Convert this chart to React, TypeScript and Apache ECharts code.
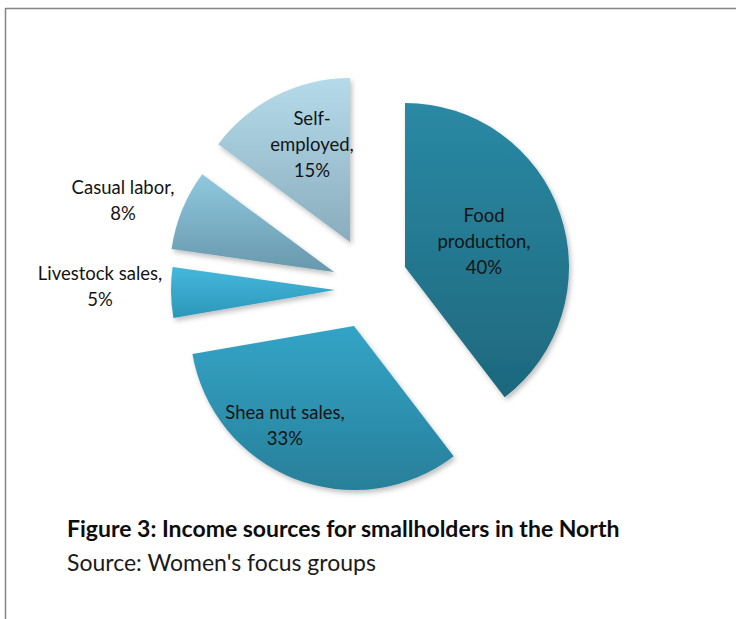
import React, { useEffect, useRef } from "react";
import * as echarts from "echarts";

const categories = ["Food production", "Shea nut sales", "Livestock sales", "Casual labor", "Self-employed"];
const values = [40, 33, 5, 8, 15];
const labelLines = [
  ["Food", "production,"],
  ["Shea nut sales,"],
  ["Livestock sales,"],
  ["Casual labor,"],
  ["Self-", "employed,"],
];
const titleText = "Figure 3: Income sources for smallholders in the North";
const sourceText = "Source: Women's focus groups";

// layout (not data)
const centers: [number, number][] = [
  [405, 267],
  [354, 326],
  [335, 290],
  [334, 272],
  [350, 242],
];
const labelPos: [number, number][] = [
  [484, 241],
  [285, 425],
  [100, 286],
  [123, 200],
  [312, 144],
];
const gradients: [string, string][] = [
  ["#2a89a4", "#1e687d"],
  ["#33a4c7", "#287f99"],
  ["#44b8dc", "#2b97b9"],
  ["#8fc8df", "#6898ac"],
  ["#b5dbea", "#8aadbd"],
];

export default function App() {
  const ref = useRef<HTMLDivElement>(null);
  useEffect(() => {
    document.body.style.margin = "0";
    const chart = echarts.init(ref.current!, null, { renderer: "svg" });
    const font = "Lato, 'Open Sans', sans-serif";
    const series = categories.map((_, i) => ({
      type: "pie",
      center: centers[i],
      radius: [0, 164],
      startAngle: 90,
      clockwise: true,
      silent: true,
      labelLine: { show: false },
      emphasis: { disabled: true },
      labelLayout: () => ({
        x: labelPos[i][0],
        y: labelPos[i][1],
        align: "center",
        verticalAlign: "middle",
      }),
      data: categories.map((name, j) => ({
        name,
        value: values[j],
        itemStyle:
          j === i
            ? {
                color: new echarts.graphic.LinearGradient(0, 0, 0, 1, [
                  { offset: 0, color: gradients[j][0] },
                  { offset: 1, color: gradients[j][1] },
                ]),
                shadowBlur: 5,
                shadowOffsetX: 2,
                shadowOffsetY: 3,
                shadowColor: "rgba(0,0,0,0.25)",
              }
            : { color: "transparent" },
        label:
          j === i
            ? {
                show: true,
                position: "inside",
                formatter: () => [...labelLines[j], values[j] + "%"].join("\n"),
                fontFamily: font,
                fontSize: 18.5,
                lineHeight: 26,
                color: "#141414",
                align: "center",
              }
            : { show: false },
      })),
    }));
    chart.setOption({
      animation: false,
      backgroundColor: "#ffffff",
      series,
      graphic: [
        { type: "line", shape: { x1: 5, y1: 8.5, x2: 736, y2: 8.5 }, style: { stroke: "#858585", lineWidth: 1.5 } },
        { type: "line", shape: { x1: 5.5, y1: 8, x2: 5.5, y2: 619 }, style: { stroke: "#858585", lineWidth: 1.5 } },
        {
          type: "text",
          x: 67,
          y: 528,
          style: { text: titleText, font: `bold 23px ${font}`, fill: "#0d0d0d", textVerticalAlign: "middle" },
        },
        {
          type: "text",
          x: 67,
          y: 562,
          style: { text: sourceText, font: `23px ${font}`, fill: "#1a1a1a", textVerticalAlign: "middle" },
        },
      ],
    });
    return () => chart.dispose();
  }, []);
  return <div ref={ref} style={{ width: 736, height: 619 }} />;
}
